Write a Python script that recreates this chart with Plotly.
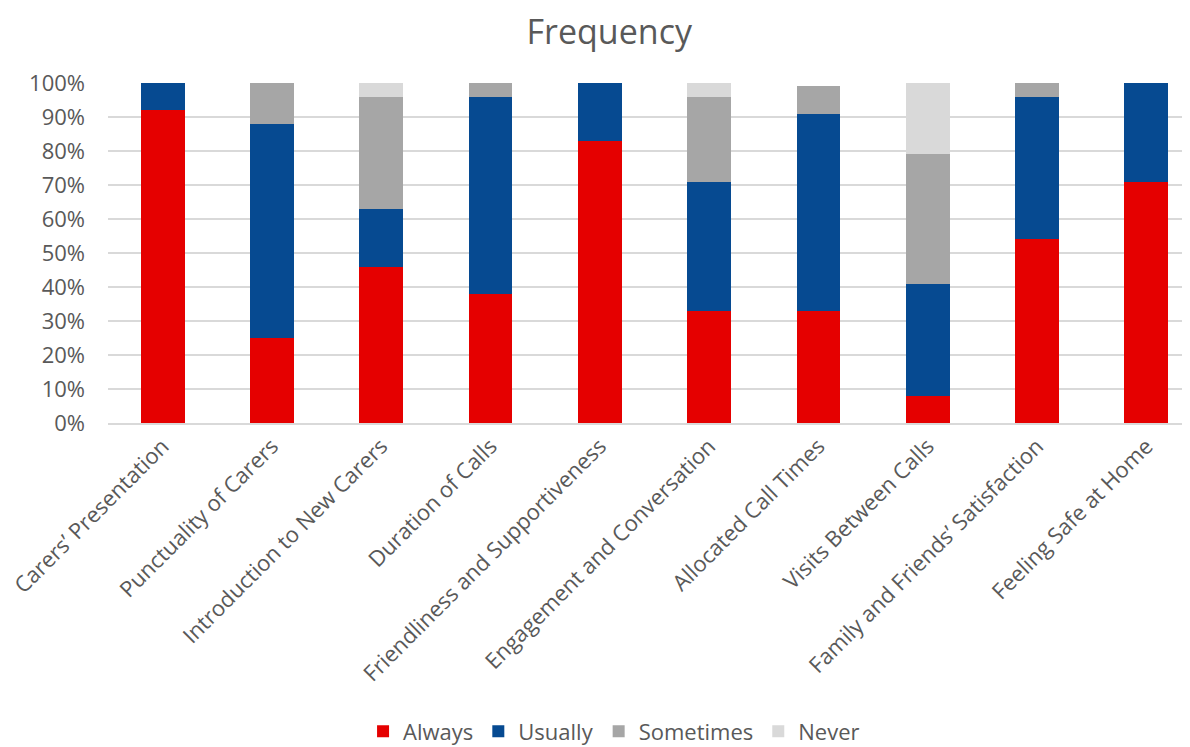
import plotly.graph_objects as go

categories = ["Carers’ Presentation", "Punctuality of Carers", "Introduction to New Carers",
              "Duration of Calls", "Friendliness and Supportiveness", "Engagement and Conversation",
              "Allocated Call Times", "Visits Between Calls", "Family and Friends’ Satisfaction",
              "Feeling Safe at Home"]
always    = [0.92, 0.25, 0.46, 0.38, 0.83, 0.33, 0.33, 0.08, 0.54, 0.71]
usually   = [0.08, 0.63, 0.17, 0.58, 0.17, 0.38, 0.58, 0.33, 0.42, 0.29]
sometimes = [0.00, 0.12, 0.33, 0.04, 0.00, 0.25, 0.08, 0.38, 0.04, 0.00]
never     = [0.00, 0.00, 0.04, 0.00, 0.00, 0.04, 0.00, 0.21, 0.00, 0.00]

series = [("Always", always, "#E50000"), ("Usually", usually, "#064A91"),
          ("Sometimes", sometimes, "#A6A6A6"), ("Never", never, "#D9D9D9")]

fig = go.Figure()
for name, vals, col in series:
    fig.add_trace(go.Bar(x=categories, y=vals, name=name, marker_color=col,
                         marker_line_width=0))

font_fam = "Open Sans, Liberation Sans, sans-serif"
fig.update_layout(
    barmode="stack", bargap=0.6,
    width=1193, height=739,
    margin=dict(l=100, r=0, t=75, b=324, autoexpand=False),
    plot_bgcolor="white", paper_bgcolor="white",
    font=dict(family=font_fam, color="#595959", size=22),
    title=dict(text="Frequency", x=0.504, xanchor="center", y=0.9675, yanchor="middle",
               font=dict(size=34, color="#595959")),
    legend=dict(orientation="h", x=0.463, xanchor="center", yref="container", y=0.021,
                yanchor="middle", font=dict(size=22), itemwidth=30, traceorder="normal"),
    yaxis=dict(range=[0, 1], dtick=0.1, tickformat=".0%", gridcolor="#D9D9D9", gridwidth=1.5,
               zeroline=False, showline=False, ticks="", ticklabelstandoff=22,
               automargin=False, tickfont=dict(size=22)),
    xaxis=dict(tickangle=-45, showline=True, linecolor="#D9D9D9", linewidth=1.5, ticks="",
               automargin=False, tickfont=dict(size=22)),
)
fig.write_html("out.html")
